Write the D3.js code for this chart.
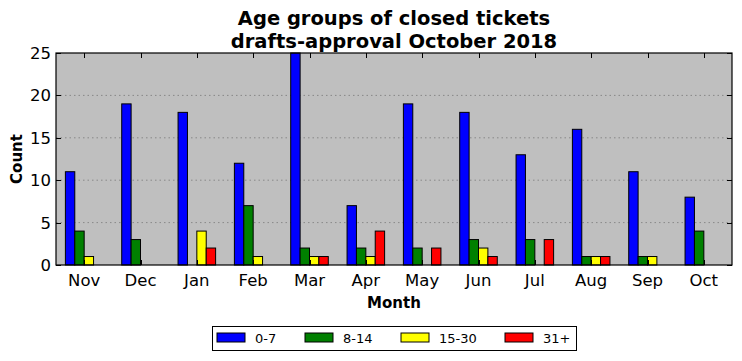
<!DOCTYPE html>
<html>
<head>
<meta charset="utf-8">
<script src="https://d3js.org/d3.v7.min.js"></script>
<style>
  body { margin: 0; background: #fff; }
  svg { display: block; font-family: "DejaVu Sans", sans-serif; }
  .grid line { stroke: #888; stroke-dasharray: 1.5 3; }
</style>
</head>
<body>
<svg width="742" height="361"></svg>
<script>
const months = ["Nov","Dec","Jan","Feb","Mar","Apr","May","Jun","Jul","Aug","Sep","Oct"];
const groups = ["0-7","8-14","15-30","31+"];
const colors = ["#0000ff","#008000","#ffff00","#ff0000"];
const age0_7   = [11,19,18,12,25,7,19,18,13,16,11,8];
const age8_14  = [4,3,0,7,2,2,2,3,3,1,1,4];
const age15_30 = [1,0,4,1,1,1,0,2,0,1,1,0];
const age31    = [0,0,2,0,1,4,2,1,3,1,0,0];
const series = [age0_7, age8_14, age15_30, age31];
const yTicks = [0,5,10,15,20,25];

const svg = d3.select("svg");
const m = {left: 56, right: 732, top: 53, bottom: 265};

const x = d3.scaleBand().domain(months).range([m.left, m.right]).paddingInner(0).paddingOuter(0);
const xi = d3.scaleBand().domain(groups).range([x.bandwidth()/6, x.bandwidth()*5/6]);
const y = d3.scaleLinear().domain([0,25]).range([m.bottom, m.top]);

svg.append("rect")
  .attr("x", m.left).attr("y", m.top)
  .attr("width", m.right - m.left).attr("height", m.bottom - m.top)
  .attr("fill", "#bfbfbf");

// grid
svg.append("g").attr("class", "grid")
  .selectAll("line").data(yTicks.slice(1, -1)).join("line")
  .attr("x1", m.left).attr("x2", m.right)
  .attr("y1", d => y(d)).attr("y2", d => y(d));

// bars
const g = svg.append("g");
series.forEach(function(vals, si) {
  g.selectAll(null).data(vals).join("rect")
    .attr("x", (d, i) => x(months[i]) + xi(groups[si]))
    .attr("y", d => y(d))
    .attr("width", xi.bandwidth())
    .attr("height", d => y(0) - y(d))
    .attr("fill", colors[si])
    .attr("stroke", "#000")
    .attr("stroke-width", 1);
});

// ticks inside on all sides
const tk = svg.append("g").attr("stroke", "#000").attr("stroke-width", 1);
months.forEach(function(mo) {
  const cx = Math.round(x(mo) + x.bandwidth()/2) + 0.5;
  tk.append("line").attr("x1", cx).attr("x2", cx).attr("y1", m.bottom).attr("y2", m.bottom - 5);
  tk.append("line").attr("x1", cx).attr("x2", cx).attr("y1", m.top).attr("y2", m.top + 5);
});
yTicks.forEach(function(v) {
  const cy = Math.round(y(v)) + 0.5;
  tk.append("line").attr("x1", m.left).attr("x2", m.left + 5).attr("y1", cy).attr("y2", cy);
  tk.append("line").attr("x1", m.right).attr("x2", m.right - 5).attr("y1", cy).attr("y2", cy);
});

// frame
svg.append("rect")
  .attr("x", m.left).attr("y", m.top)
  .attr("width", m.right - m.left).attr("height", m.bottom - m.top)
  .attr("fill", "none").attr("stroke", "#000").attr("stroke-width", 1.2);

// tick labels
svg.append("g").selectAll("text").data(months).join("text")
  .attr("x", d => x(d) + x.bandwidth()/2)
  .attr("y", 286)
  .attr("text-anchor", "middle")
  .attr("font-size", 16.5)
  .text(d => d);

svg.append("g").selectAll("text").data(yTicks).join("text")
  .attr("x", m.left - 5)
  .attr("y", d => y(d) + 6)
  .attr("text-anchor", "end")
  .attr("font-size", 16.5)
  .text(d => d);

// titles
svg.append("text").attr("x", 394).attr("y", 25).attr("text-anchor", "middle")
  .attr("font-size", 19.5).attr("font-weight", "bold").text("Age groups of closed tickets");
svg.append("text").attr("x", 394).attr("y", 48).attr("text-anchor", "middle")
  .attr("font-size", 19.5).attr("font-weight", "bold").text("drafts-approval October 2018");
svg.append("text").attr("x", 394).attr("y", 308).attr("text-anchor", "middle")
  .attr("font-size", 15).attr("font-weight", "bold").text("Month");
svg.append("text").attr("transform", "translate(22,159) rotate(-90)").attr("text-anchor", "middle")
  .attr("font-size", 15).attr("font-weight", "bold").text("Count");

// legend
const lg = svg.append("g");
lg.append("rect").attr("x", 212.5).attr("y", 326.5).attr("width", 364).attr("height", 24)
  .attr("fill", "#fff").attr("stroke", "#000").attr("stroke-width", 1);
const legendX = [217, 305, 401, 505];
groups.forEach(function(name, i) {
  lg.append("rect").attr("x", legendX[i]).attr("y", 333).attr("width", 28).attr("height", 9)
    .attr("fill", colors[i]).attr("stroke", "#000").attr("stroke-width", 1);
  lg.append("text").attr("x", legendX[i] + 38).attr("y", 343).attr("font-size", 13).text(name);
});
</script>
</body>
</html>
